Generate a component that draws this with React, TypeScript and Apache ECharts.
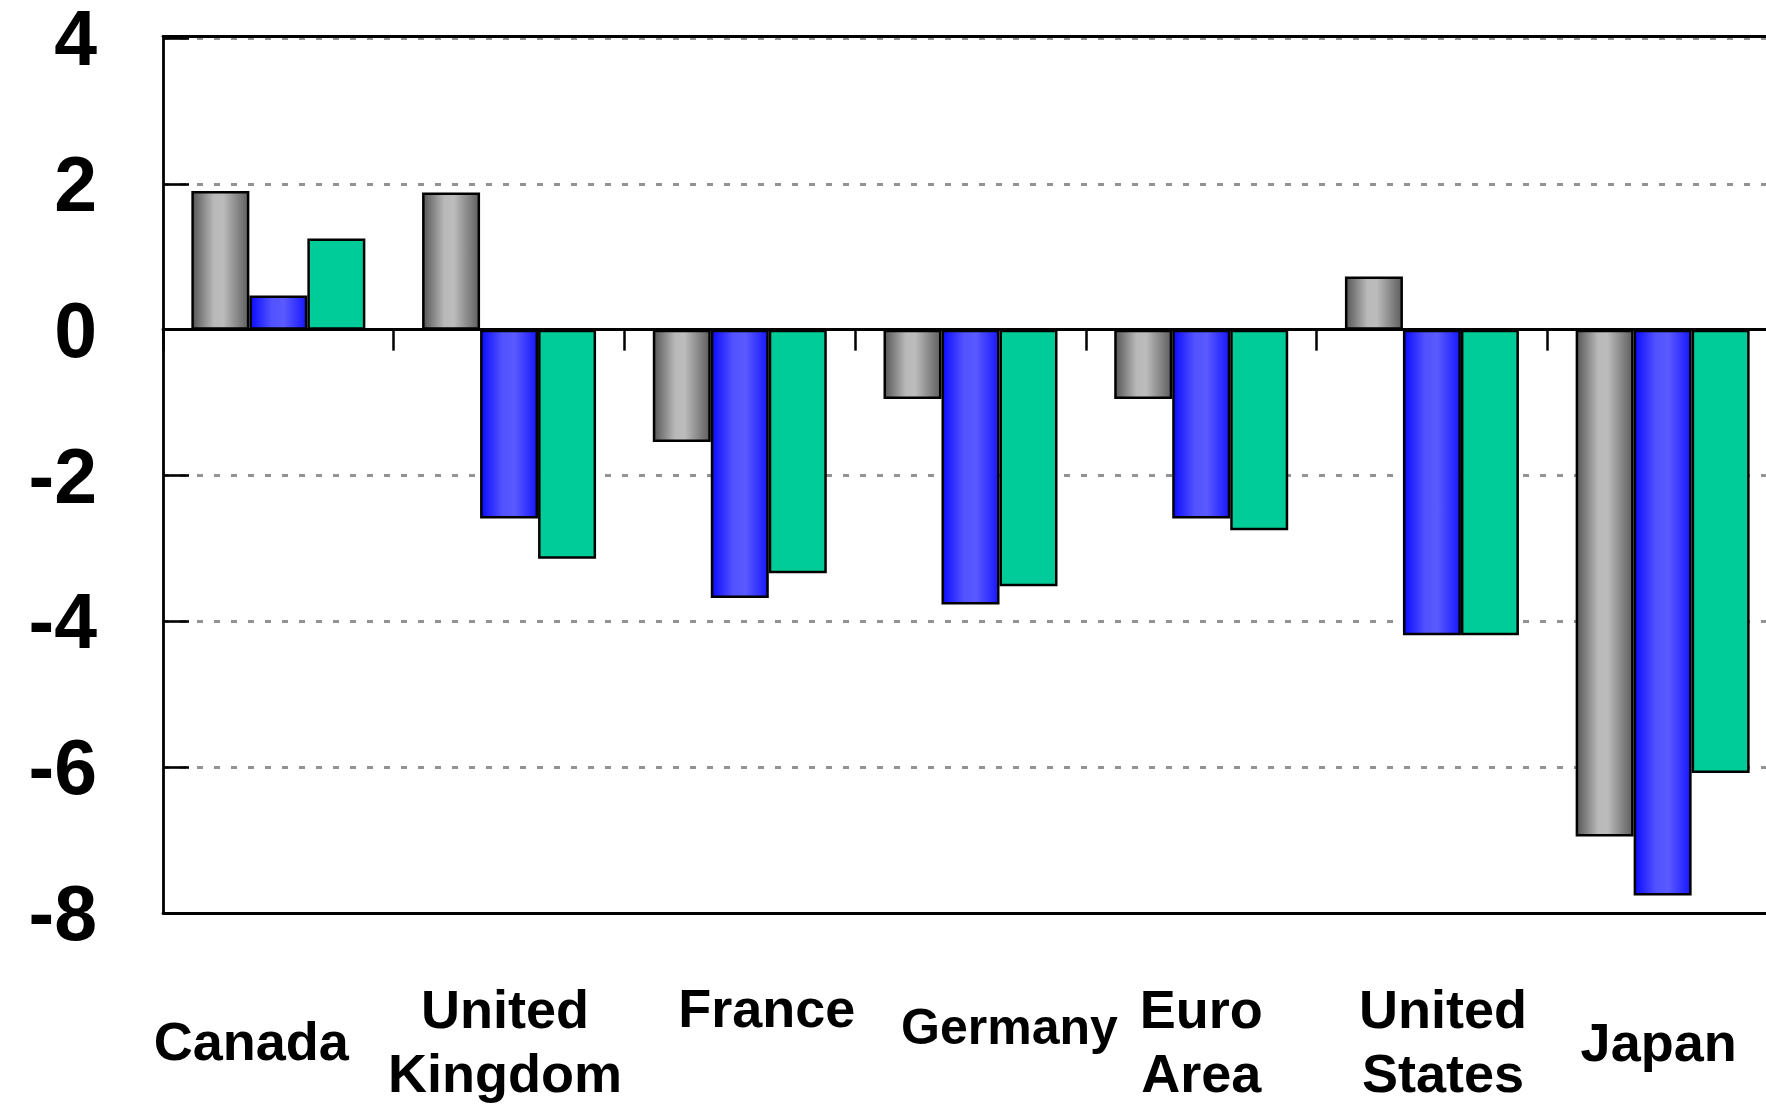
import React, { useEffect, useRef } from 'react';
import * as echarts from 'echarts';

// ---- Data ----
const categories = ['Canada', 'United\nKingdom', 'France', 'Germany', 'Euro\nArea', 'United\nStates', 'Japan'];
const seriesGray = [1.9, 1.88, -1.54, -0.95, -0.95, 0.73, -6.95];
const seriesBlue = [0.47, -2.59, -3.68, -3.77, -2.59, -4.19, -7.76];
const seriesGreen = [1.25, -3.14, -3.34, -3.52, -2.75, -4.19, -6.08];
const yMin = -8;
const yMax = 4;
const yInterval = 2;

const FONT = '"Liberation Sans", Arial, Helvetica, sans-serif';

// per-category label placement tweaks (padding: top, right, bottom, left)
const labelPads: number[][] = [
  [33, 54, 0, 0],
  [1, 8, 0, 0],
  [0, 0, 0, 54],
  [19, 0, 0, 78],
  [1, 0, 0, 0],
  [1, 0, 0, 22],
  [34, 8, 0, 0],
];
const labelSizes = [54, 54, 54, 50, 54, 54, 54];

const GRID = { left: 163, top: 38, width: 1615, height: 875 };

const grayGrad = {
  type: 'linear', x: 0, y: 0, x2: 1, y2: 0,
  colorStops: [
    { offset: 0, color: '#575757' },
    { offset: 0.38, color: '#b9b9b9' },
    { offset: 0.55, color: '#bcbcbc' },
    { offset: 1, color: '#5f5f5f' },
  ],
};
const blueGrad = {
  type: 'linear', x: 0, y: 0, x2: 1, y2: 0,
  colorStops: [
    { offset: 0, color: '#0c0cff' },
    { offset: 0.38, color: '#5252ff' },
    { offset: 0.6, color: '#5a5aff' },
    { offset: 1, color: '#1818ff' },
  ],
};

export default function App() {
  const ref = useRef<HTMLDivElement>(null);
  useEffect(() => {
    document.body.style.margin = '0';
    document.body.style.overflow = 'hidden';
    const chart = echarts.init(ref.current as HTMLDivElement, null, { renderer: 'svg' });
    const black = '#000000';
    const labelData = categories.map((c, i) => ({
      value: c,
      textStyle: { padding: labelPads[i], fontSize: labelSizes[i] },
    }));
    const barCommon = {
      type: 'bar',
      xAxisIndex: 0,
      yAxisIndex: 0,
      barWidth: 58,
      barGap: '0%',
    };
    chart.setOption({
      animation: false,
      backgroundColor: '#ffffff',
      grid: [
        { ...GRID, outerBoundsMode: 'none' },
        { ...GRID, outerBoundsMode: 'none' },
      ],
      xAxis: [
        {
          type: 'category',
          gridIndex: 0,
          data: categories,
          position: 'bottom',
          axisLine: { show: true, onZero: true, lineStyle: { color: black, width: 2.8 } },
          axisTick: { show: true, interval: 0, length: 21, lineStyle: { color: black, width: 2.5 } },
          axisLabel: { show: false },
          splitLine: { show: false },
        },
        {
          type: 'category',
          gridIndex: 0,
          data: categories,
          position: 'top',
          offset: 2,
          axisLine: { show: true, onZero: false, lineStyle: { color: black, width: 2.8 } },
          axisTick: { show: false },
          axisLabel: { show: false },
          splitLine: { show: false },
        },
        {
          type: 'category',
          gridIndex: 1,
          data: labelData,
          position: 'bottom',
          axisLine: { show: true, onZero: false, lineStyle: { color: black, width: 2.8 } },
          axisTick: { show: false },
          splitLine: { show: false },
          axisLabel: {
            interval: 0,
            margin: 63,
            fontSize: 54,
            lineHeight: 64,
            fontWeight: 'bold',
            fontFamily: FONT,
            color: black,
          },
        },
      ],
      yAxis: [
        {
          type: 'value',
          gridIndex: 0,
          min: yMin,
          max: yMax,
          interval: yInterval,
          axisLine: { show: true, onZero: false, lineStyle: { color: black, width: 2.8 } },
          axisTick: { show: true, inside: true, length: 26, lineStyle: { color: black, width: 2.6 } },
          axisLabel: {
            fontSize: 77,
            lineHeight: 60,
            fontWeight: 'bold',
            fontFamily: FONT,
            color: black,
            margin: 66,
            padding: [5, 0, 0, 0],
          },
          splitLine: { show: true, lineStyle: { color: '#939393', width: 3, type: [6, 11] } },
        },
        {
          type: 'value',
          gridIndex: 1,
          min: yMin,
          max: yMax,
          interval: yInterval,
          show: false,
          splitLine: { show: false },
        },
      ],
      series: [
        { ...barCommon, name: 'Series 1', data: seriesGray, itemStyle: { color: grayGrad, borderColor: black, borderWidth: 2.5 } },
        { ...barCommon, name: 'Series 2', data: seriesBlue, itemStyle: { color: blueGrad, borderColor: black, borderWidth: 2.5 } },
        { ...barCommon, name: 'Series 3', data: seriesGreen, itemStyle: { color: '#00cc99', borderColor: black, borderWidth: 2.5 } },
      ],
    });
    return () => chart.dispose();
  }, []);
  return (
    <div style={{ width: 1766, height: 1104, overflow: 'hidden', position: 'relative' }}>
      <div ref={ref} style={{ width: 1800, height: 1104 }} />
    </div>
  );
}
